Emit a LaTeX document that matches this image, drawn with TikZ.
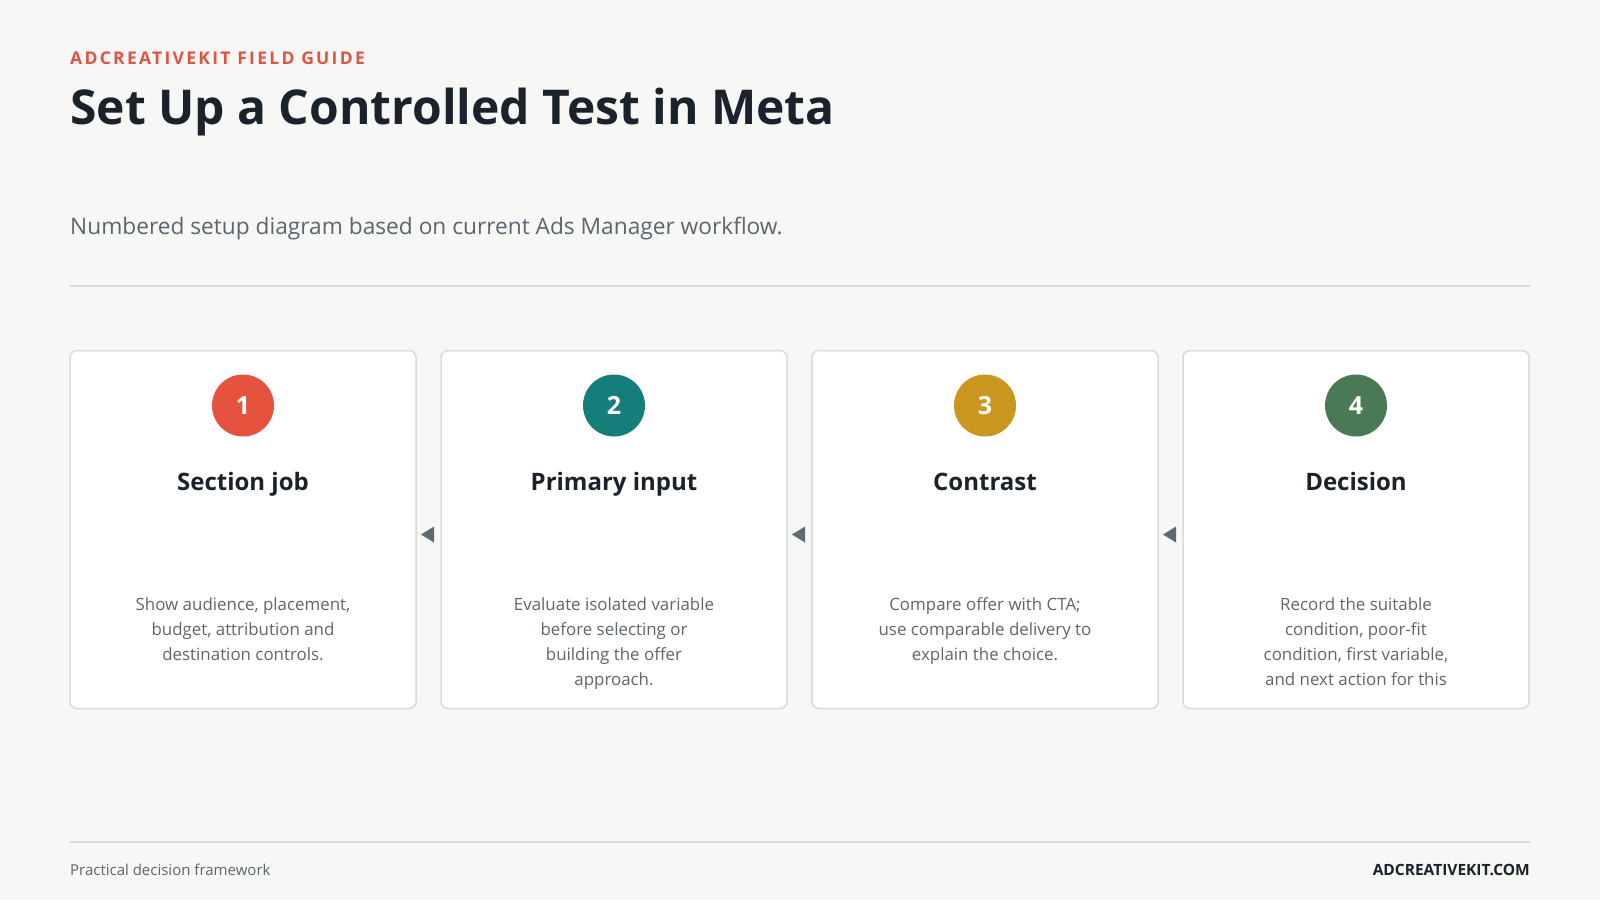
\documentclass[tikz,border=0pt]{standalone}
\usepackage{fontspec}
\setmainfont{Open Sans}
\usetikzlibrary{calc,positioning}
\definecolor{pagebg}{HTML}{F7F7F5}
\definecolor{ink}{HTML}{1B222B}
\definecolor{kickred}{HTML}{DF5443}
\definecolor{subgrey}{HTML}{5B6670}
\definecolor{bodygrey}{HTML}{5F666D}
\definecolor{ruleline}{HTML}{DADBDA}
\definecolor{cardline}{HTML}{D8DADC}
\definecolor{pointgrey}{HTML}{5F6B73}
\definecolor{stepred}{HTML}{E5533F}
\definecolor{stepteal}{HTML}{157D7A}
\definecolor{stepgold}{HTML}{C9961E}
\definecolor{stepgreen}{HTML}{4A7A55}
\tikzstyle{card}=[rectangle,draw=cardline,line width=1.5pt,fill=white,rounded corners=7pt,
minimum width=346pt,minimum height=358pt,inner sep=0pt,outer sep=0pt]
\tikzstyle{badge}=[circle,minimum size=62pt,inner sep=0pt,text=white,
font=\fontsize{25}{30}\selectfont\bfseries]
\tikzstyle{cardtitle}=[anchor=base,inner sep=0pt,text=ink,font=\fontsize{24}{28}\selectfont\bfseries]
\tikzstyle{cardbody}=[anchor=north,align=center,inner sep=0pt,text=bodygrey,
font=\fontsize{16.9}{25}\selectfont]
\tikzstyle{pointer}=[fill=pointgrey]

\begin{document}
\begin{tikzpicture}[x=1pt,y=-1pt]
    \fill[pagebg] (0,0) rectangle (1600,900);
    \useasboundingbox (0,0) rectangle (1600,900);

    % header
    \node[anchor=base west,inner sep=0pt,text=kickred,font=\fontsize{17.5}{20}\selectfont\bfseries\addfontfeature{LetterSpace=13}] (kicker) at (70,64) {ADCREATIVEKIT FIELD GUIDE};
    \node[anchor=base west,inner sep=0pt,text=ink,font=\fontsize{48}{58}\selectfont\bfseries] (title) at (70,124) {Set Up a Controlled Test in Meta};
    \node[anchor=base west,inner sep=0pt,text=subgrey,font=\fontsize{22.7}{26}\selectfont] (subtitle) at (70,234) {Numbered setup diagram based on current Ads Manager workflow.};
    \draw[ruleline,line width=1.5pt] (70,286) -- (1530,286);

    % cards
    \node[card] (c1) at (243,529.5) {};
    \node[card] (c2) [right=25pt of c1] {};
    \node[card] (c3) [right=25pt of c2] {};
    \node[card] (c4) [right=25pt of c3] {};

    \node[badge,fill=stepred] (n1) at ($(c1.north)+(0,55)$) {1};
    \node[badge,fill=stepteal] (n2) at ($(c2.north)+(0,55)$) {2};
    \node[badge,fill=stepgold] (n3) at ($(c3.north)+(0,55)$) {3};
    \node[badge,fill=stepgreen] (n4) at ($(c4.north)+(0,55)$) {4};

    \node[cardtitle] (t1) at ($(c1.north)+(0,140)$) {Section job};
    \node[cardtitle] (t2) at ($(c2.north)+(0,140)$) {Primary input};
    \node[cardtitle] (t3) at ($(c3.north)+(0,140)$) {Contrast};
    \node[cardtitle] (t4) at ($(c4.north)+(0,140)$) {Decision};

    \node[cardbody] (b1) at ($(c1.north)+(0,247)$) {Show audience, placement,\\budget, attribution and\\destination controls.};
    \node[cardbody] (b2) at ($(c2.north)+(0,247)$) {Evaluate isolated variable\\before selecting or\\building the offer\\approach.};
    \node[cardbody] (b3) at ($(c3.north)+(0,247)$) {Compare offer with CTA;\\use comparable delivery to\\explain the choice.};
    \node[cardbody] (b4) at ($(c4.north)+(0,247)$) {Record the suitable\\condition, poor-fit\\condition, first variable,\\and next action for this};

    % pointers between cards
    \fill[pointer] ($(c2.west)+(-7,-3)$) -- ($(c2.west)+(-7,13)$) -- ($(c1.east)+(5,5)$) -- cycle;
    \fill[pointer] ($(c3.west)+(-7,-3)$) -- ($(c3.west)+(-7,13)$) -- ($(c2.east)+(5,5)$) -- cycle;
    \fill[pointer] ($(c4.west)+(-7,-3)$) -- ($(c4.west)+(-7,13)$) -- ($(c3.east)+(5,5)$) -- cycle;

    % footer
    \draw[ruleline,line width=1.5pt] (70,842) -- (1530,842);
    \node[anchor=base west,inner sep=0pt,text=subgrey,font=\fontsize{15}{18}\selectfont] (footl) at (70,875) {Practical decision framework};
    \node[anchor=base east,inner sep=0pt,text=ink,font=\fontsize{15.5}{18}\selectfont\bfseries] (footr) at (1530,875) {ADCREATIVEKIT.COM};
\end{tikzpicture}
\end{document}
